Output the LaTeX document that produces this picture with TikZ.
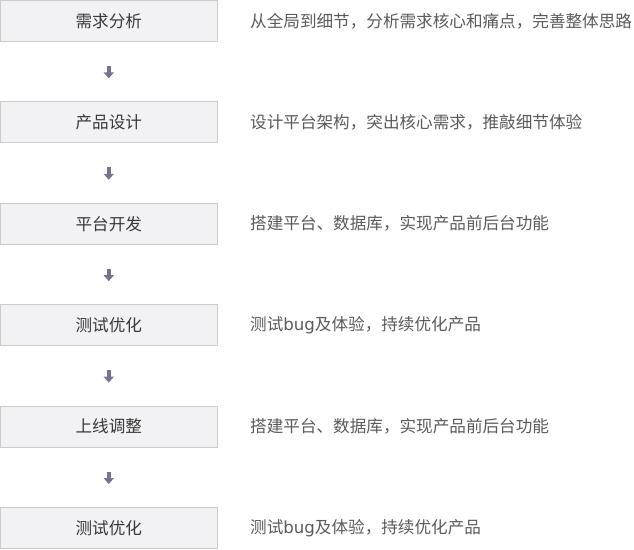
\documentclass[tikz,border=0pt]{standalone}
\usepackage{fontspec}
\setmainfont{Noto Sans CJK SC}
\newfontfamily\latfont{DejaVu Sans}
\usetikzlibrary{arrows.meta}
\definecolor{boxfill}{HTML}{F2F2F4}
\definecolor{boxline}{HTML}{CCCCCC}
\definecolor{arrowc}{HTML}{74748F}
\definecolor{titlec}{HTML}{383838}
\definecolor{descc}{HTML}{5A5A5A}
\tikzset{
  stepbox/.style={draw=boxline, fill=boxfill, line width=1pt, minimum width=216.5pt, minimum height=41pt, inner sep=0pt, text=titlec, font=\fontsize{16.6}{19}\selectfont},
  desc/.style={anchor=west, inner sep=0pt, text=descc, font=\fontsize{16.6}{19}\selectfont},
  arr/.style={draw=arrowc, line width=4pt, -{Triangle[length=6pt,width=10pt]}, shorten <=24pt, shorten >=23pt}
}
\begin{document}
\begin{tikzpicture}[x=1pt,y=1pt]
\useasboundingbox (0,0) rectangle (634,-549);
\node[stepbox] (b1) at (108.75,-21.0) {需求分析};
\node[stepbox] (b2) at (108.75,-122.4) {产品设计};
\node[stepbox] (b3) at (108.75,-223.8) {平台开发};
\node[stepbox] (b4) at (108.75,-325.2) {测试优化};
\node[stepbox] (b5) at (108.75,-426.6) {上线调整};
\node[stepbox] (b6) at (108.75,-528.0) {测试优化};
\node[desc] (d1) at (250,-21.0) {从全局到细节，分析需求核心和痛点，完善整体思路};
\node[desc] (d2) at (250,-122.4) {设计平台架构，突出核心需求，推敲细节体验};
\node[desc] (d3) at (250,-223.8) {搭建平台、数据库，实现产品前后台功能};
\node[desc] (d4) at (250,-325.2) {测试{\latfont bug}及体验，持续优化产品};
\node[desc] (d5) at (250,-426.6) {搭建平台、数据库，实现产品前后台功能};
\node[desc] (d6) at (250,-528.0) {测试{\latfont bug}及体验，持续优化产品};
\draw[arr] (b1.south) -- (b2.north);
\draw[arr] (b2.south) -- (b3.north);
\draw[arr] (b3.south) -- (b4.north);
\draw[arr] (b4.south) -- (b5.north);
\draw[arr] (b5.south) -- (b6.north);
\end{tikzpicture}
\end{document}
